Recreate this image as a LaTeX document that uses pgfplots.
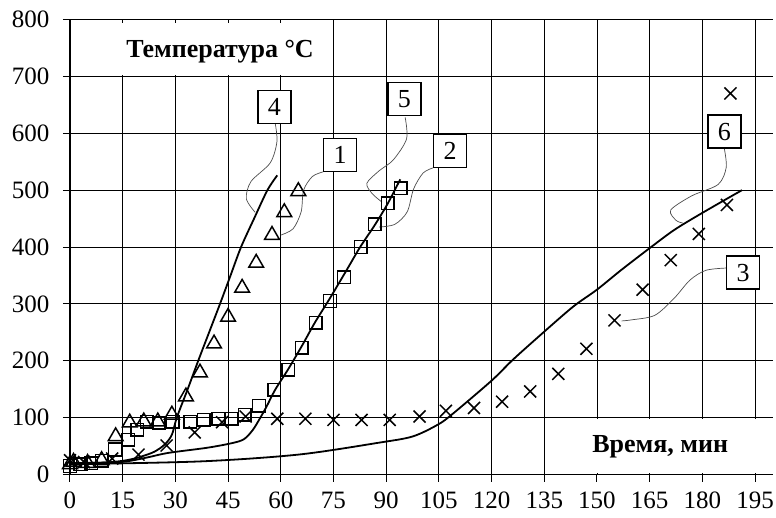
\documentclass[border=0pt]{standalone}
\usepackage{fontspec}
\setmainfont{Liberation Serif}
\usepackage{pgfplots}
\pgfplotsset{compat=1.18}
\tikzset{
  box/.style={draw=black, line width=1.6pt, fill=white, minimum width=33pt, minimum height=33pt, inner sep=0pt, font=\fontsize{26}{30}\selectfont},
}
\pgfplotsset{
  lead/.style={gray!60!black, line width=0.7pt, smooth, no marks, forget plot},
}
\begin{document}
\begin{tikzpicture}
\begin{axis}[
  scale only axis, width=702.6pt, height=455pt,
  xmin=0, xmax=200, ymin=0, ymax=800,
  axis x line=bottom, axis y line=left,
  axis line style={-, line width=1.8pt},
  xtick={0,15,...,195}, ytick={0,100,...,800},
  grid=major, major grid style={black, line width=0.8pt},
  tick align=outside, major tick length=7pt, tick style={black, line width=1pt},
  ticklabel style={font=\fontsize{25}{29}\selectfont},
  yticklabel style={xshift=-10pt},
  xticklabel style={yshift=-7pt},
  /pgf/number format/assume math mode=true,
  clip=false,
]
% white boxes behind titles
\fill[white] (axis cs:0.6,702) rectangle (axis cs:72,793);
\fill[white] (axis cs:145,3.5) rectangle (axis cs:200,97);
\node[font=\fontsize{26}{30}\selectfont\bfseries] at (axis cs:42.7,744) {Температура °C};
\node[font=\fontsize{26}{30}\selectfont\bfseries] at (axis cs:168,49) {Время, мин};

% calculated curves 4,5,6
\addplot[black, line width=1.8pt, smooth, no marks] coordinates {
(0,20)(10,21)(16,25)(20,31)(24,40)(27,53)(29,70)(30.4,100)(33.5,150)(36.5,200)(39.6,250)(42.7,300)(45.7,350)(48.7,400)(52.4,450)(56.2,500)(59,526)};
\addplot[black, line width=1.8pt, smooth, no marks] coordinates {
(0,20)(10,21)(16,23)(22,30)(28,38)(39,47)(46,55)(49.5,62)(52,78)(54,98)(56,120)(58.4,149)(62,184)(66,226)(69.7,267)(74,310)(78.8,360)(82.6,400)(86.8,439)(90.5,477)(94,519)};
\addplot[black, line width=1.8pt, smooth, no marks] coordinates {
(0,18)(37,23)(65,35)(88,56)(97.6,67)(104.8,88)(109,107)(120,165)(126.1,202)(134.6,249)(143.2,295)(150,325)(157,360)(165,398)(172,430)(180,460)(191.3,500)};

% experimental 1: triangles
\addplot[only marks, mark=triangle, mark size=8.5pt, mark options={line width=1.5pt, fill=none, draw=black}] coordinates {
(0,18)(1,22)(5,20)(9,25)(13,67)(17,91)(21,93)(25,93)(29,105)(33,137)(37,179)(41,230)(45,277)(49,328)(53,372)(57.5,421)(61,461)(65,498)};
% experimental 2: squares
\addplot[only marks, mark=square, mark size=6.3pt, mark options={line width=1.5pt, fill=none, draw=black}] coordinates {
(0,15)(3,18)(6,20)(9,24)(12.8,44)(16.5,61)(19.1,79)(21.9,93)(25.3,91)(29.3,93)(34.2,93)(38.1,96)(42.2,98)(46.1,98)(49.8,105)(53.8,121)(58.1,149)(62.1,184)(66,223)(70,267)(74,305)(78,347)(82.8,400)(86.8,440)(90.5,477)(94.2,503)};
% experimental 3: crosses
\addplot[only marks, mark=x, mark size=8.5pt, mark options={line width=1.5pt, draw=black}] coordinates {
(0,25)(4,22)(12,28)(19.5,35)(27.5,51)(35.5,74)(43.3,92)(50,102)(59,98)(67,98)(75,96)(83,96)(91,96)(99.5,102)(107,112)(115,117)(123,128)(131,146)(139,177)(147,221)(155,271)(163,325)(171,377)(179,423)(187,474)(188,670)};

% leader lines
\addplot[lead] coordinates {(58.4,618)(58.9,585)(57,548)(51.5,515)(50.2,485)(52.7,461)};
\addplot[lead] coordinates {(72,532)(69,524)(66.5,500)(65.8,462)(63.5,432)(60,421)};
\addplot[lead] coordinates {(95.4,628)(95.8,590)(92,553)(88,534)(84.5,512)(86,494)(88.8,479)};
\addplot[lead] coordinates {(103.3,539)(100.5,530)(97.8,502)(96,462)(92.5,440)(88,435)};
\addplot[lead] coordinates {(186.2,575)(186.8,540)(184.5,510)(177,490)(171,465)(172.5,447)(174.5,442)};
\addplot[lead] coordinates {(186.7,363)(181,359)(176.5,342)(172,310)(166.5,280)(160,272)(157,270)};

\node[box] at (axis cs:58.2,646) {4};
\node[box] at (axis cs:76.9,562) {1};
\node[box] at (axis cs:95.2,660) {5};
\node[box] at (axis cs:108.2,569) {2};
\node[box] at (axis cs:186.3,603) {6};
\node[box] at (axis cs:191.6,355) {3};
\end{axis}
\pgfresetboundingbox
\useasboundingbox (-70pt,-42.5pt) rectangle (706pt,474.5pt);
\end{tikzpicture}
\end{document}
